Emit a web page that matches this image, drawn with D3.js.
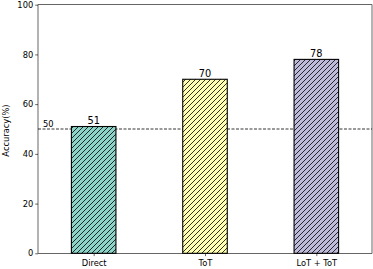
<!DOCTYPE html>
<html><head><meta charset="utf-8">
<script src="https://cdn.jsdelivr.net/npm/d3@7"></script>
<style>body{margin:0;background:#fff}svg{display:block}text{font-family:"DejaVu Sans",sans-serif;fill:#000}</style>
</head><body>
<script>
const categories = ["Direct", "ToT", "LoT + ToT"];
const values = [51, 70, 78];
const colors = ["#8dd3c7", "#ffffb3", "#bebada"];
const yTicks = [0, 20, 40, 60, 80, 100];
const refValue = 50;
const yLabel = "Accuracy(%)";

const W = 373, H = 269;
const m = {left: 38, right: 1, top: 4.7, bottom: 15.7};
const svg = d3.select("body").append("svg").attr("width", W).attr("height", H);

const x = d3.scaleLinear().domain([-0.5, categories.length - 0.5]).range([m.left, W - m.right]);
const y = d3.scaleLinear().domain([0, 100]).range([H - m.bottom, m.top]);
const bw = x(0.4) - x(0);

const defs = svg.append("defs");
colors.forEach((c, i) => {
  const p = defs.append("pattern").attr("id", "h" + i).attr("patternUnits", "userSpaceOnUse")
    .attr("width", 5).attr("height", 5);
  p.append("rect").attr("width", 5).attr("height", 5).attr("fill", c);
  p.append("path").attr("d", "M-1,1 L1,-1 M0,5 L5,0 M4,6 L6,4").attr("stroke", "#000").attr("stroke-width", 0.8);
});

// dashed reference line
svg.append("line").attr("x1", x.range()[0]).attr("x2", x.range()[1])
  .attr("y1", y(refValue)).attr("y2", y(refValue))
  .attr("stroke", "#000").attr("stroke-width", 0.8).attr("stroke-dasharray", "3,1.5");
svg.append("text").attr("x", m.left + 5).attr("y", y(refValue) - 2.2)
  .attr("font-size", 8.3).text(String(refValue));

// bars
svg.selectAll("rect.bar").data(values).join("rect").attr("class", "bar")
  .attr("x", (d, i) => x(i) - bw / 2).attr("width", bw)
  .attr("y", d => y(d)).attr("height", d => y(0) - y(d))
  .attr("fill", (d, i) => `url(#h${i})`).attr("stroke", "#000").attr("stroke-width", 1.1);

svg.selectAll("text.val").data(values).join("text").attr("class", "val")
  .attr("x", (d, i) => x(i)).attr("y", d => y(d) - 2.2)
  .attr("text-anchor", "middle").attr("font-size", 9.8).text(d => d);

// axes
const yAxis = d3.axisLeft(y).tickValues(yTicks).tickSize(2.8).tickPadding(2);
const gy = svg.append("g").attr("transform", `translate(${m.left},0)`).call(yAxis);
gy.select(".domain").remove();
gy.selectAll("text").attr("font-size", 8.3).attr("font-family", "DejaVu Sans, sans-serif");
gy.selectAll("line").attr("stroke-width", 0.6);

const xAxis = d3.axisBottom(x).tickValues(d3.range(categories.length)).tickFormat(i => categories[i]).tickSize(2.8).tickPadding(3.8);
const gx = svg.append("g").attr("transform", `translate(0,${y(0)})`).call(xAxis);
gx.select(".domain").remove();
gx.selectAll("text").attr("font-size", 8.3).attr("font-family", "DejaVu Sans, sans-serif");
gx.selectAll("line").attr("stroke-width", 0.6);

// frame
svg.append("rect").attr("x", m.left).attr("y", m.top)
  .attr("width", W - m.right - m.left).attr("height", y(0) - m.top)
  .attr("fill", "none").attr("stroke", "#000").attr("stroke-width", 0.6);

svg.append("text").attr("transform", `translate(8.5,${(m.top + y(0)) / 2 + 1.5}) rotate(-90)`)
  .attr("text-anchor", "middle").attr("font-size", 8.3).text(yLabel);
</script>
</body></html>
